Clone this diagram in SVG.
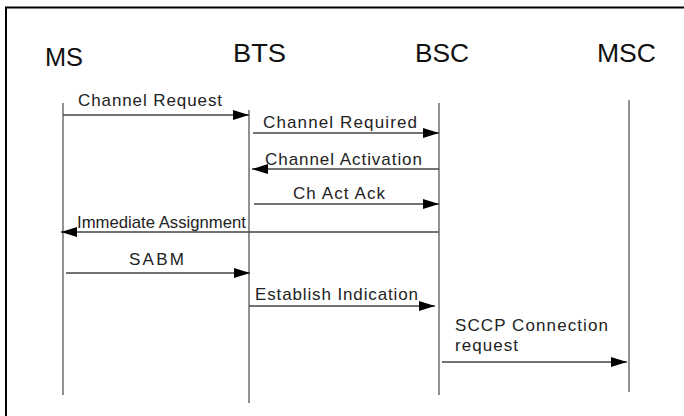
<svg xmlns="http://www.w3.org/2000/svg" width="684" height="416" viewBox="0 0 684 416">
<style>
.hdr{font-family:"Liberation Sans",Arial,sans-serif;font-size:26px;fill:#111}
.lbl{font-family:"Liberation Sans",Arial,sans-serif;font-size:17px;fill:#222}
.life{stroke:#777;stroke-width:1.6;fill:none}
.msg{stroke:#444;stroke-width:1.6;fill:none;marker-end:url(#ah)}
</style>
<defs>
<marker id="ah" markerUnits="userSpaceOnUse" markerWidth="16" markerHeight="10" refX="16" refY="5" orient="auto">
<path d="M0,0 L16,5 L0,10 z" fill="#000"/>
</marker>
</defs>
<rect x="6" y="7.5" width="700" height="430" fill="#fff" stroke="#000" stroke-width="2"/>
<g id="ms">
<text class="hdr" x="45" y="66" textLength="38" lengthAdjust="spacingAndGlyphs">MS</text>
<line class="life" x1="63" y1="103" x2="63" y2="395"/>
</g>
<g id="bts">
<text class="hdr" x="233" y="62" textLength="53" lengthAdjust="spacingAndGlyphs">BTS</text>
<line class="life" x1="249" y1="110" x2="249" y2="403"/>
</g>
<g id="bsc">
<text class="hdr" x="415" y="62" textLength="54" lengthAdjust="spacingAndGlyphs">BSC</text>
<line class="life" x1="439" y1="103" x2="439" y2="395"/>
</g>
<g id="msc">
<text class="hdr" x="597" y="62" textLength="59" lengthAdjust="spacingAndGlyphs">MSC</text>
<line class="life" x1="629" y1="100" x2="629" y2="392"/>
</g>
<g id="connectors">
<path class="msg" d="M63,115 H249"/>
<text class="lbl" x="78" y="106" textLength="144" lengthAdjust="spacing">Channel Request</text>
<path class="msg" d="M253,133 H439"/>
<text class="lbl" x="263" y="128" textLength="154" lengthAdjust="spacing">Channel Required</text>
<path class="msg" d="M439,169 H252"/>
<text class="lbl" x="265" y="165" textLength="157" lengthAdjust="spacing">Channel Activation</text>
<path class="msg" d="M254,204 H439"/>
<text class="lbl" x="293" y="199" textLength="92" lengthAdjust="spacing">Ch Act Ack</text>
<path class="msg" d="M439,232 H61"/>
<text class="lbl" x="77" y="228" textLength="169" lengthAdjust="spacingAndGlyphs">Immediate Assignment</text>
<path class="msg" d="M66,273 H250"/>
<text class="lbl" x="129" y="265" textLength="55" lengthAdjust="spacing">SABM</text>
<path class="msg" d="M249,306 H435"/>
<text class="lbl" x="255" y="300" textLength="163" lengthAdjust="spacing">Establish Indication</text>
<path class="msg" d="M442,362 H627"/>
<text class="lbl" x="455" y="331" textLength="153" lengthAdjust="spacing">SCCP Connection</text>
<text class="lbl" x="455" y="351" textLength="63" lengthAdjust="spacing">request</text>
</g>
</svg>
